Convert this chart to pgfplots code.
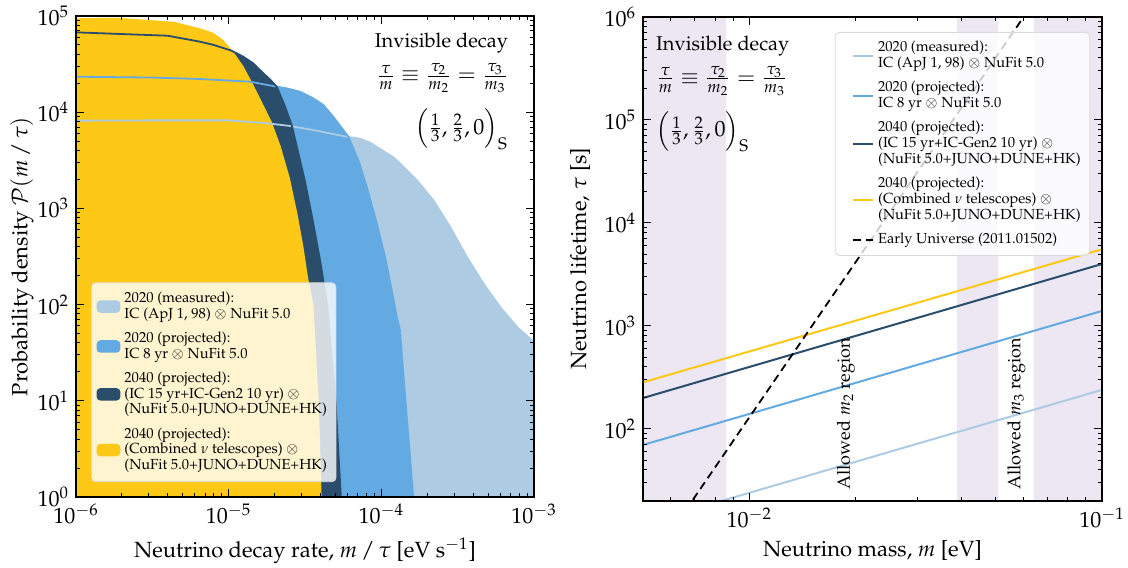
\documentclass[border=0pt]{standalone}
\usepackage[T1]{fontenc}
\usepackage{mathpazo}
\usepackage{pgfplots}
\pgfplotsset{compat=1.18}
\definecolor{cLB}{RGB}{173,203,227}
\definecolor{cB}{RGB}{99,170,226}
\definecolor{cN}{RGB}{43,77,108}
\definecolor{cY}{RGB}{254,200,22}
\definecolor{cP}{RGB}{236,231,243}

\pgfplotstableread{
x y
5e-7 8166
1e-6 8166
3.162e-6 8222
1e-5 8222
1.778e-5 7674
2.523e-5 7194
3.776e-5 6427
5.929e-5 5559
7.244e-5 5309
8.511e-5 4786
1.047e-4 3890
1.202e-4 3388
1.324e-4 2944
1.706e-4 1972
2.188e-4 1222
2.818e-4 645.7
3.622e-4 314.8
4.656e-4 166.3
5.984e-4 95.06
7.709e-4 58.88
1e-3 40.74
1.2e-3 35
1.2e-3 0.5
5e-7 0.5
}\tLB

\pgfplotstableread{
x y
5e-7 23388
1e-6 23388
3.162e-6 22909
6.486e-6 22131
1.380e-5 20749
2.065e-5 18408
2.399e-5 17701
2.931e-5 16331
3.581e-5 13932
4.169e-5 11885
4.842e-5 8974
6.081e-5 5559
7.079e-5 3162
8.017e-5 1683
9.333e-5 699.8
1.057e-4 314.8
1.169e-4 141.9
1.262e-4 74.82
1.324e-4 54.45
1.439e-4 10
1.618e-4 1
1.65e-4 0.5
5e-7 0.5
}\tB

\pgfplotstableread{
x y
5e-7 67608
1e-6 67608
3.981e-6 62373
5.248e-6 57544
6.486e-6 54075
7.943e-6 50119
1.047e-5 43551
1.247e-5 37757
1.449e-5 32211
1.687e-5 25351
1.866e-5 21878
2.065e-5 18408
2.312e-5 12023
2.588e-5 7362
2.931e-5 3184
3.162e-5 1905
3.548e-5 758.6
3.981e-5 281.8
4.266e-5 141.3
4.416e-5 100
5.012e-5 10
5.433e-5 1
5.5e-5 0.5
5e-7 0.5
}\tN

\pgfplotstableread{
x y
5e-7 94624
1e-6 94624
1.858e-6 95940
4.385e-6 87096
6.486e-6 74473
7.925e-6 66988
9.226e-6 56364
1.072e-5 42560
1.247e-5 30200
1.416e-5 20749
1.660e-5 12589
1.914e-5 7943
2.188e-5 4467
2.512e-5 2089
2.818e-5 891
3.090e-5 398
3.311e-5 190.5
3.589e-5 100
3.890e-5 10
4.064e-5 1
4.1e-5 0.5
5e-7 0.5
}\tY

\begin{document}
\begin{tikzpicture}
\useasboundingbox (-38pt,-35pt) rectangle (526pt,248.5pt);
\begin{axis}[scale only axis, xmode=log, ymode=log, axis on top,
  tick align=inside, major tick length=4pt, minor tick length=2pt,
  every tick/.style={black, line width=0.5pt},
  axis line style={line width=0.7pt},
  ticklabel style={font=\fontsize{11}{13}\selectfont},
  label style={font=\fontsize{11}{13}\selectfont},
  legend cell align=left,
  legend style={fill=white, fill opacity=0.8, draw opacity=1, text opacity=1,
    draw=black!15, rounded corners=2pt, inner sep=2.5pt,
    font=\fontsize{7.3}{7.9}\selectfont, cells={align=left, inner ysep=0.8pt}, row sep=1.3pt,
    at={(0.033,0.031)}, anchor=south west},
  legend image code/.code={\fill[#1, draw=none, fill opacity=1] (0cm,-0.11cm) rectangle (0.42cm,0.11cm);},
  at={(0pt,0pt)}, anchor=south west, width=229pt, height=240.5pt,
  xmin=1e-6, xmax=1e-3, ymin=1, ymax=1e5,
  xlabel={Neutrino decay rate, $m\,/\,\tau$ [eV s$^{-1}$]},
  ylabel={Probability density $\mathcal{P}(m\,/\,\tau)$},
  xlabel style={at={(axis description cs:0.5,-0.112)}, anchor=center},
  ylabel style={at={(axis description cs:-0.118,0.5)}, anchor=center},
]
\addplot[fill=cLB, draw=none] table {\tLB} -- cycle;
\addlegendentry{2020 (measured):\\IC (ApJ 1, 98) $\otimes$ NuFit 5.0}
\addplot[fill=cB, draw=none] table {\tB} -- cycle;
\addlegendentry{2020 (projected):\\IC 8 yr $\otimes$ NuFit 5.0}
\addplot[fill=cN, draw=none] table {\tN} -- cycle;
\addlegendentry{2040 (projected):\\(IC 15 yr+IC-Gen2 10 yr) $\otimes$\\(NuFit 5.0+JUNO+DUNE+HK)}
\addplot[fill=cY, draw=none] table {\tY} -- cycle;
\addlegendentry{2040 (projected):\\(Combined $\nu$ telescopes) $\otimes$\\(NuFit 5.0+JUNO+DUNE+HK)}
\addplot[cLB, line width=0.9pt, forget plot] table {\tLB};
\addplot[cB, line width=0.9pt, forget plot] table {\tB};
\addplot[cN, line width=0.9pt, forget plot] table {\tN};
\node[anchor=north east, align=right, font=\fontsize{10}{12}\selectfont, inner sep=0pt]
  at (axis description cs:0.944,0.965)
  {Invisible decay\\[4pt] {\fontsize{11}{13}\selectfont$\frac{\tau}{m}\equiv\frac{\tau_2}{m_2}=\frac{\tau_3}{m_3}$}\\[7pt] {\fontsize{11}{13}\selectfont$\left(\frac{1}{3},\frac{2}{3},0\right)_{\mathrm{S}}$}};
\end{axis}

\begin{axis}[scale only axis, xmode=log, ymode=log, axis on top,
  tick align=inside, major tick length=4pt, minor tick length=2pt,
  every tick/.style={black, line width=0.5pt},
  axis line style={line width=0.7pt},
  ticklabel style={font=\fontsize{11}{13}\selectfont},
  label style={font=\fontsize{11}{13}\selectfont},
  legend cell align=left,
  legend style={fill=white, fill opacity=0.8, draw opacity=1, text opacity=1,
    draw=black!15, rounded corners=2pt, inner sep=2.5pt,
    font=\fontsize{7.3}{7.9}\selectfont, cells={align=left, inner ysep=0.8pt}, row sep=1.3pt,
    at={(0.974,0.969)}, anchor=north east},
  legend image code/.code={\path (-0.2cm,0cm); \draw[#1] (0cm,0cm) -- (0.36cm,0cm);},
  at={(283.5pt,-2pt)}, anchor=south west, width=229.5pt, height=242pt,
  xmin=0.005, xmax=0.1, ymin=20, ymax=1e6,
  xlabel={Neutrino mass, $m$ [eV]},
  ylabel={Neutrino lifetime, $\tau$ [s]},
  xlabel style={at={(axis description cs:0.5,-0.103)}, anchor=center},
  ylabel style={at={(axis description cs:-0.137,0.5)}, anchor=center},
]
\addplot[fill=cP, draw=none, forget plot] coordinates {(0.004,10) (0.0086,10) (0.0086,1e7) (0.004,1e7)} -- cycle;
\addplot[fill=cP, draw=none, forget plot] coordinates {(0.0388,10) (0.0507,10) (0.0507,1e7) (0.0388,1e7)} -- cycle;
\addplot[fill=cP, draw=none, forget plot] coordinates {(0.064,10) (0.12,10) (0.12,1e7) (0.064,1e7)} -- cycle;
\addplot[cLB, line width=1pt] coordinates {(0.005,12) (0.1,240)};
\addlegendentry{2020 (measured):\\IC (ApJ 1, 98) $\otimes$ NuFit 5.0}
\addplot[cB, line width=1pt] coordinates {(0.005,70) (0.1,1400)};
\addlegendentry{2020 (projected):\\IC 8 yr $\otimes$ NuFit 5.0}
\addplot[cN, line width=1pt] coordinates {(0.005,200) (0.1,4000)};
\addlegendentry{2040 (projected):\\(IC 15 yr+IC-Gen2 10 yr) $\otimes$\\(NuFit 5.0+JUNO+DUNE+HK)}
\addplot[cY, line width=1pt] coordinates {(0.005,284) (0.1,5560)};
\addlegendentry{2040 (projected):\\(Combined $\nu$ telescopes) $\otimes$\\(NuFit 5.0+JUNO+DUNE+HK)}
\addplot[black, line width=0.9pt, dash pattern=on 4pt off 2.5pt] coordinates {(0.006,10.05) (0.07,2.17e6)};
\addlegendentry{Early Universe (2011.01502)}
\node[rotate=90, font=\fontsize{9}{11}\selectfont] at (axis cs:0.0188,140) {Allowed $m_2$ region};
\node[rotate=90, font=\fontsize{9}{11}\selectfont] at (axis cs:0.0572,140) {Allowed $m_3$ region};
\node[anchor=north west, align=left, font=\fontsize{10}{12}\selectfont, inner sep=0pt]
  at (axis description cs:0.028,0.962)
  {Invisible decay\\[4pt] {\fontsize{11}{13}\selectfont$\frac{\tau}{m}\equiv\frac{\tau_2}{m_2}=\frac{\tau_3}{m_3}$}\\[7pt] {\fontsize{11}{13}\selectfont$\left(\frac{1}{3},\frac{2}{3},0\right)_{\mathrm{S}}$}};
\end{axis}
\end{tikzpicture}
\end{document}
